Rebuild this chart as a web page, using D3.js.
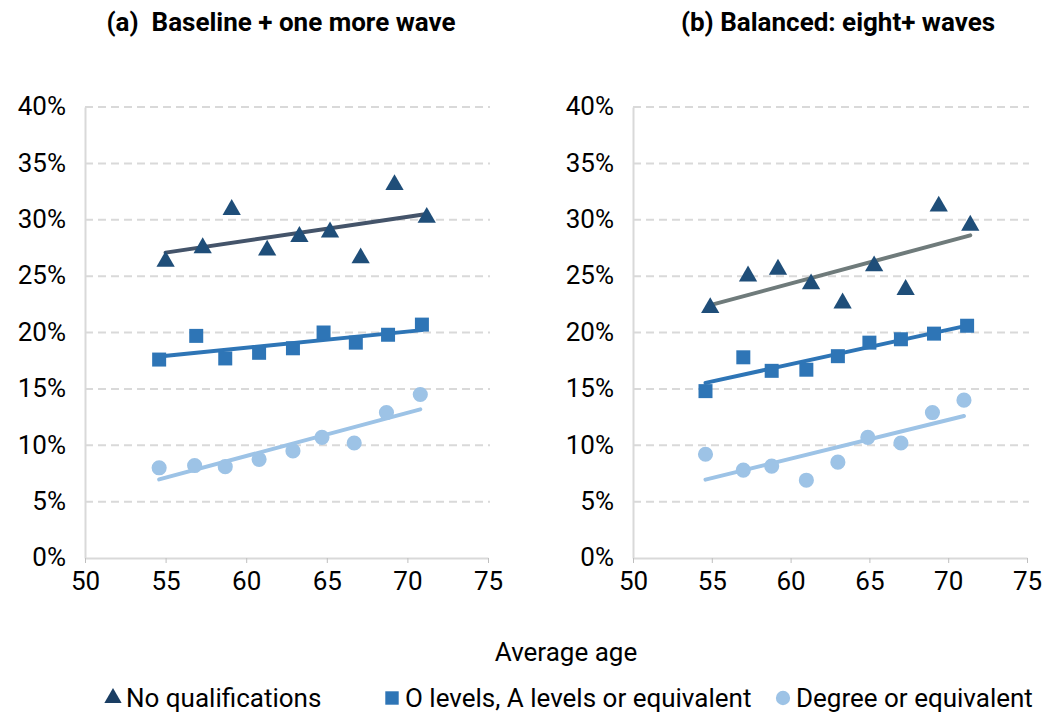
<!DOCTYPE html>
<html>
<head>
	<meta charset="UTF-8" />
	<title>scatter/trend</title>
	<script src="https://d3js.org/d3.v7.min.js"></script>
	<style type="text/css">
		body{margin:0; background:#fff;}
		text{font-family:"Roboto","Liberation Sans",sans-serif; fill:#000;}
		.title{font-family:"Roboto","Liberation Sans",sans-serif; font-weight:bold; font-size:26px;}
		.grid line{stroke:#d9d9d9; stroke-width:2; stroke-dasharray:8,5;}
	</style>
</head>
<body>
	<svg id="chart" width="1048" height="718"></svg>

	<script type="text/javascript">
	// series colours, dark to light
	var navy = "#1f4e79"
	var blue = "#2e75b6"
	var light = "#9dc3e6"

	var seriesNames = ["No qualifications", "O levels, A levels or equivalent", "Degree or equivalent"]
	var yTicks = [0, 0.05, 0.10, 0.15, 0.20, 0.25, 0.30, 0.35, 0.40]
	var xTicks = [50, 55, 60, 65, 70, 75]

	// panel (a)
	var ageNoQualA = [55.0, 57.3, 59.1, 61.3, 63.3, 65.2, 67.1, 69.2, 71.2]
	var valNoQualA = [0.263, 0.275, 0.309, 0.273, 0.285, 0.289, 0.266, 0.331, 0.302]
	var ageOLevA = [54.6, 56.9, 58.7, 60.8, 62.9, 64.8, 66.8, 68.8, 70.9]
	var valOLevA = [0.176, 0.197, 0.177, 0.182, 0.186, 0.200, 0.191, 0.198, 0.207]
	var ageDegA = [54.6, 56.8, 58.7, 60.8, 62.9, 64.7, 66.7, 68.7, 70.8]
	var valDegA = [0.080, 0.082, 0.081, 0.0875, 0.095, 0.107, 0.102, 0.129, 0.145]

	// panel (b)
	var ageNoQualB = [54.9, 57.3, 59.2, 61.3, 63.3, 65.3, 67.3, 69.4, 71.4]
	var valNoQualB = [0.222, 0.250, 0.256, 0.243, 0.226, 0.259, 0.238, 0.312, 0.295]
	var ageOLevB = [54.6, 57.0, 58.8, 61.0, 63.0, 65.0, 67.0, 69.1, 71.2]
	var valOLevB = [0.148, 0.178, 0.166, 0.167, 0.179, 0.191, 0.194, 0.199, 0.206]
	var ageDegB = [54.6, 57.0, 58.8, 61.0, 63.0, 64.9, 67.0, 69.0, 71.0]
	var valDegB = [0.092, 0.078, 0.0815, 0.069, 0.085, 0.107, 0.102, 0.129, 0.140]

	var panels = [
		{title: "(a)\u00a0\u00a0Baseline + one more wave", left: 85, right: 488, tx: 281, trend0: "#44546a",
			series: [[ageNoQualA, valNoQualA], [ageOLevA, valOLevA], [ageDegA, valDegA]]},
		{title: "(b) Balanced: eight+ waves", left: 633, right: 1027, tx: 838, trend0: "#6f7b7b",
			series: [[ageNoQualB, valNoQualB], [ageOLevB, valOLevB], [ageDegB, valDegB]]}
	]

	var plotTop = 107, plotBottom = 558
	var svg = d3.select("#chart")

	var triangle = d3.symbol().type(d3.symbolTriangle).size(145)
	var square = d3.symbol().type(d3.symbolSquare).size(196)
	var circle = d3.symbol().type(d3.symbolCircle).size(180)
	var shapes = [triangle, square, circle]
	var fills = [navy, blue, light]

	// least squares fit, drawn across the data range
	function fit(xs, ys){
		var mx = d3.mean(xs), my = d3.mean(ys)
		var sxy = d3.sum(xs, (x, i)=>(x-mx)*(ys[i]-my))
		var sxx = d3.sum(xs, x=>(x-mx)*(x-mx))
		var b = sxy/sxx, a = my - b*mx
		var x0 = d3.min(xs), x1 = d3.max(xs)
		return [[x0, a+b*x0], [x1, a+b*x1]]
	}

	panels.forEach(p=>{
		var x = d3.scaleLinear().domain([50, 75]).range([p.left, p.right])
		var y = d3.scaleLinear().domain([0, 0.40]).range([plotBottom, plotTop])
		var g = svg.append("g")

		g.append("text").attr("class", "title")
			.attr("x", p.tx).attr("y", 31)
			.attr("text-anchor", "middle")
			.text(p.title)

		// dashed gridlines
		g.append("g").attr("class", "grid")
			.selectAll("line")
			.data(yTicks.slice(1))
			.enter().append("line")
			.attr("x1", p.left).attr("x2", p.right + 2)
			.attr("y1", d=>y(d)).attr("y2", d=>y(d))

		// y axis
		var ya = g.append("g")
			.attr("transform", "translate(" + p.left + ",0)")
			.call(d3.axisLeft(y).tickValues(yTicks).tickFormat(d3.format(".0%")).tickSize(0).tickPadding(19))
		ya.select(".domain").attr("stroke", "#d9d9d9").attr("stroke-width", 2)
		ya.selectAll("text").attr("font-size", 26).attr("font-family", null).attr("dy", "0.3em")

		// x axis
		var xa = g.append("g")
			.attr("transform", "translate(0," + plotBottom + ")")
			.call(d3.axisBottom(x).tickValues(xTicks).tickSizeOuter(0).tickSizeInner(5).tickPadding(9))
		xa.select(".domain").attr("stroke", "#d9d9d9").attr("stroke-width", 2)
		xa.selectAll("line").attr("stroke", "#bfbfbf")
		xa.selectAll("text").attr("font-size", 26).attr("font-family", null)

		// trendlines
		p.series.forEach((s, i)=>{
			var pts = fit(s[0], s[1])
			g.append("line")
				.attr("x1", x(pts[0][0])).attr("y1", y(pts[0][1]))
				.attr("x2", x(pts[1][0])).attr("y2", y(pts[1][1]))
				.attr("stroke", i == 0 ? p.trend0 : fills[i])
				.attr("stroke-width", 4)
				.attr("stroke-linecap", "round")
		})

		// markers
		p.series.forEach((s, i)=>{
			g.append("g").selectAll("path")
				.data(s[0].map((a, k)=>[a, s[1][k]]))
				.enter().append("path")
				.attr("d", shapes[i])
				.attr("fill", fills[i])
				.attr("transform", d=>"translate(" + x(d[0]) + "," + y(d[1]) + ")")
		})
	})

	// shared x title
	svg.append("text")
		.attr("x", 566).attr("y", 661)
		.attr("text-anchor", "middle")
		.attr("font-size", 26)
		.text("Average age")

	// legend
	var legX = [113, 392, 783]
	var leg = svg.append("g").selectAll("g")
		.data(seriesNames)
		.enter().append("g")
		.attr("transform", (d, i)=>"translate(" + legX[i] + ",698)")
	leg.append("path")
		.attr("d", (d, i)=>i == 0 ? d3.symbol().type(d3.symbolTriangle).size(130)()
			: i == 1 ? d3.symbol().type(d3.symbolSquare).size(180)()
			: d3.symbol().type(d3.symbolCircle).size(160)())
		.attr("fill", (d, i)=>i == 0 ? "#1a3e63" : fills[i])
	leg.append("text")
		.attr("x", 13).attr("y", 9)
		.attr("font-size", 26)
		.text(d=>d)
	</script>
</body>
</html>
